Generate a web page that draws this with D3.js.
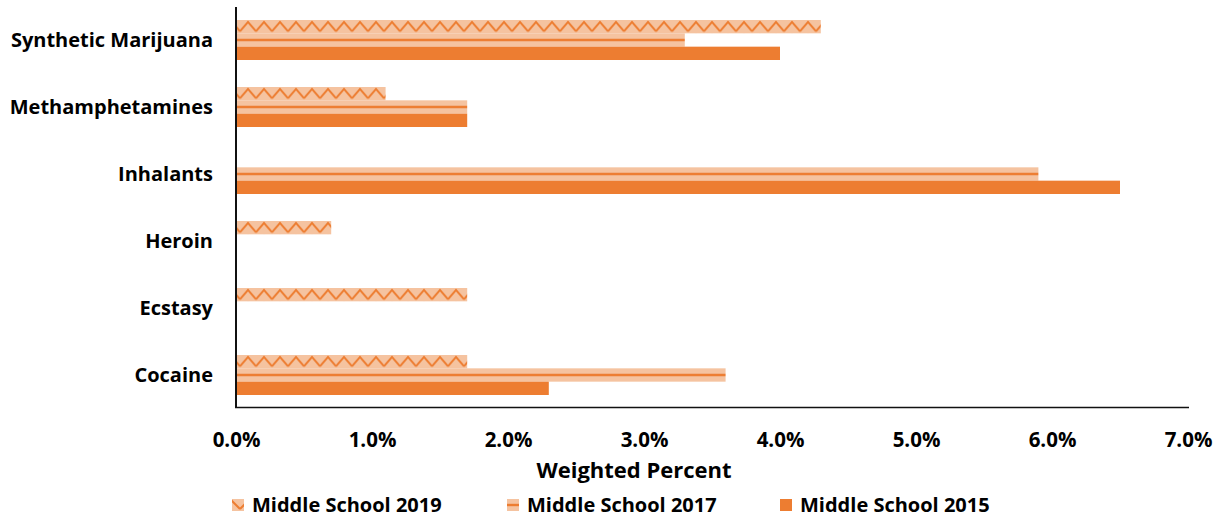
<!DOCTYPE html>
<html><head><meta charset="utf-8">
<script src="https://cdn.jsdelivr.net/npm/d3@7"></script>
<style>
body{margin:0;background:#fff;}
text{font-family:"Open Sans",Lato,sans-serif;font-weight:bold;fill:#000;}
</style></head>
<body><svg id="c" width="1222" height="520"></svg>
<script>
const categories = ["Synthetic Marijuana","Methamphetamines","Inhalants","Heroin","Ecstasy","Cocaine"];
const seriesNames = ["Middle School 2019","Middle School 2017","Middle School 2015"];
const values2019 = [4.3, 1.1, null, 0.7, 1.7, 1.7];
const values2017 = [3.3, 1.7, 5.9, null, null, 3.6];
const values2015 = [4.0, 1.7, 6.5, null, null, 2.3];
const xTicks = [0,1,2,3,4,5,6,7];
const xTitle = "Weighted Percent";

const dark = "#ED7D31", light = "#F5C3A0";
const svg = d3.select("#c");
const x = d3.scaleLinear().domain([0,7]).range([236,1188]);
const y = d3.scaleBand().domain(categories).range([6.5,408.5]).paddingInner(0).paddingOuter(0);
const sub = d3.scaleBand().domain(seriesNames).range([13.5, y.bandwidth()-13.5]);
const seriesVals = [values2019, values2017, values2015];
const defs = svg.append("defs");

function makePattern(id, kind, top, h){
  const p = defs.append("pattern").attr("id", id).attr("patternUnits","userSpaceOnUse")
    .attr("x",0).attr("y",top).attr("width", kind==="zig"?16:8).attr("height", h);
  p.append("rect").attr("width", 16).attr("height", h).attr("fill", light);
  if(kind==="zig"){
    p.append("path").attr("d", `M0,${h-2} L8,2 L16,${h-2}`).attr("fill","none")
      .attr("stroke", dark).attr("stroke-width",2);
  } else {
    p.append("rect").attr("x",0).attr("y", h/2-1.2).attr("width",8).attr("height",2.4).attr("fill",dark);
  }
  return `url(#${id})`;
}
function fillFor(si, top, h, key){
  if(si===0) return makePattern("z"+key, "zig", top, h);
  if(si===1) return makePattern("h"+key, "hl", top, h);
  return dark;
}

const g = svg.append("g");
seriesNames.forEach((s, si) => {
  categories.forEach((c, ci) => {
    const v = seriesVals[si][ci];
    if(v==null) return;
    const top = y(c) + sub(s), h = sub.bandwidth();
    g.append("rect").attr("x", x(0)).attr("y", top).attr("width", x(v)-x(0)).attr("height", h)
      .attr("fill", fillFor(si, top, h, si+"_"+ci));
  });
});

// axes
svg.append("line").attr("x1",x(0)).attr("x2",x(0)).attr("y1",7).attr("y2",408).attr("stroke","#111").attr("stroke-width",2);
svg.append("line").attr("x1",x(0)-1).attr("x2",1189).attr("y1",407.5).attr("y2",407.5).attr("stroke","#111").attr("stroke-width",1.6);

const xAxis = d3.axisBottom(x).tickValues(xTicks).tickSize(0).tickPadding(0).tickFormat(d=>d.toFixed(1)+"%");
const xg = svg.append("g").attr("transform","translate(0,440)").call(xAxis);
xg.select(".domain").remove();
xg.selectAll("text").attr("dy","0.35em").attr("y",0).style("font-size","20.5px").style("font-family","'Open Sans'").style("font-weight","bold").attr("fill","#000");

const yAxis = d3.axisLeft(y).tickSize(0).tickPadding(0);
const yg = svg.append("g").attr("transform","translate(213,0)").call(yAxis);
yg.select(".domain").remove();
yg.selectAll("text").attr("dy","0.35em").style("font-size","20px").style("font-family","'Open Sans'").style("font-weight","bold").attr("fill","#000");

svg.append("text").attr("x",634).attr("y",470).attr("dy","0.35em").attr("text-anchor","middle")
  .style("font-size","22px").text(xTitle);

// legend
const legTextX = [252, 527, 800];
seriesNames.forEach((s, si) => {
  const lg = svg.append("g");
  const top = 499, h = 12;
  let f;
  if(si===0) f = makePattern("lz", "zig", top, h);
  else if(si===1) f = makePattern("lh", "hl", top, h);
  else f = dark;
  lg.append("rect").attr("x", legTextX[si]-20).attr("y", top).attr("width", 12).attr("height", h).attr("fill", f);
  lg.append("text").attr("x", legTextX[si]).attr("y", 505).attr("dy","0.35em").style("font-size","20px").text(s);
});
</script></body></html>
